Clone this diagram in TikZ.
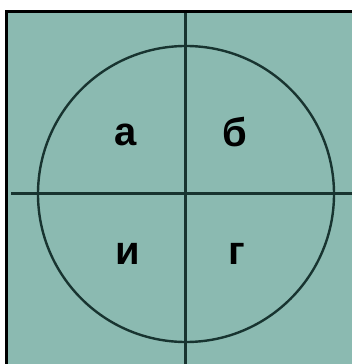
\documentclass[tikz,border=0pt]{standalone}
\usepackage{fontspec}
\setmainfont{Liberation Sans}
\definecolor{panel}{RGB}{139,186,177}
\definecolor{ink}{RGB}{24,52,48}
\begin{document}
\begin{tikzpicture}[x=1pt,y=-1pt,
    letter/.style={anchor=base,inner sep=0pt,font=\fontsize{40}{44}\selectfont\bfseries}]
    \useasboundingbox (0,0) rectangle (352,364);
    % frame
    \fill[white] (0,0) rectangle (352,364);
    \fill[black] (5,10) rectangle (352,364);
    \fill[panel] (8,13) rectangle (352,364);

    \draw[ink,line width=2.4pt] (186,194) circle (148pt);
    \draw[ink,line width=3pt] (185,13) -- (185,364);
    \draw[ink,line width=3pt] (11,193) -- (352,193);

    \node[letter] (qa) at (126,145) {а};
    \node[letter] (qb) at (235,146) {б};
    \node[letter] (qv) at (128,264) {и};
    \node[letter] (qg) at (237,264) {г};
\end{tikzpicture}
\end{document}
